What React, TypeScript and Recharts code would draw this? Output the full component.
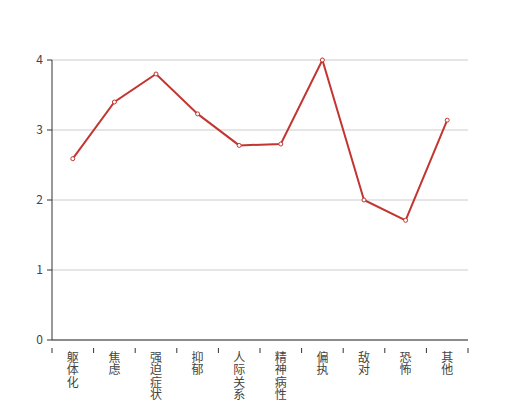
import React from 'react';
import { LineChart, Line, XAxis, YAxis, CartesianGrid } from 'recharts';

const categories = ['躯体化', '焦虑', '强迫症状', '抑郁', '人际关系敏感', '精神病性', '偏执', '敌对', '恐怖', '其他'];
const values = [2.59, 3.4, 3.8, 3.23, 2.78, 2.8, 4.0, 2.0, 1.71, 3.14];
const yTicks = [0, 1, 2, 3, 4];

const data = categories.map((name, i) => ({ name, value: values[i] }));

const W = 520;
const H = 400;
const M = { top: 60, right: 52, bottom: 0, left: 0 };
const Y_W = 52;
const X_H = 60;
const PLOT_W = W - M.left - Y_W - M.right;
const BAND = PLOT_W / categories.length;
const RED = '#c23531';
const AXIS = '#333';
const FONT = "'Noto Sans CJK SC', sans-serif";

const XTick = (props: any) => {
  const { x, y, payload, index } = props;
  const chars = String(payload.value).split('');
  const isLast = index === categories.length - 1;
  return (
    <g>
      <line x1={x - BAND / 2} x2={x - BAND / 2} y1={y} y2={y + 5} stroke={AXIS} />
      {isLast && <line x1={x + BAND / 2} x2={x + BAND / 2} y1={y} y2={y + 5} stroke={AXIS} />}
      <text x={x} y={y + 14} textAnchor="middle" fill="#444" fontSize={12} fontFamily={FONT}>
        {chars.map((c, i) => (
          <tspan key={i} x={x} dy={i === 0 ? 0 : 12.3}>{c}</tspan>
        ))}
      </text>
    </g>
  );
};

export default function App() {
  return (
    <div style={{ position: 'absolute', left: 0, top: 0, background: '#fff' }}>
      <LineChart width={W} height={H} data={data} margin={M}>
        <CartesianGrid vertical={false} stroke="#ccc" />
        <XAxis
          dataKey="name"
          height={X_H}
          interval={0}
          padding={{ left: BAND / 2, right: BAND / 2 }}
          axisLine={{ stroke: AXIS }}
          tickLine={false}
          tick={<XTick />}
        />
        <YAxis
          width={Y_W}
          domain={[0, 4]}
          ticks={yTicks}
          axisLine={{ stroke: AXIS }}
          tickLine={{ stroke: AXIS }}
          tickSize={5}
          tickMargin={4}
          tick={{ fill: '#444', fontSize: 12, fontFamily: FONT }}
        />
        <Line
          type="linear"
          dataKey="value"
          stroke={RED}
          strokeWidth={2}
          dot={{ r: 2, fill: '#fff', stroke: RED, strokeWidth: 1 }}
          activeDot={false}
          isAnimationActive={false}
        />
      </LineChart>
    </div>
  );
}
